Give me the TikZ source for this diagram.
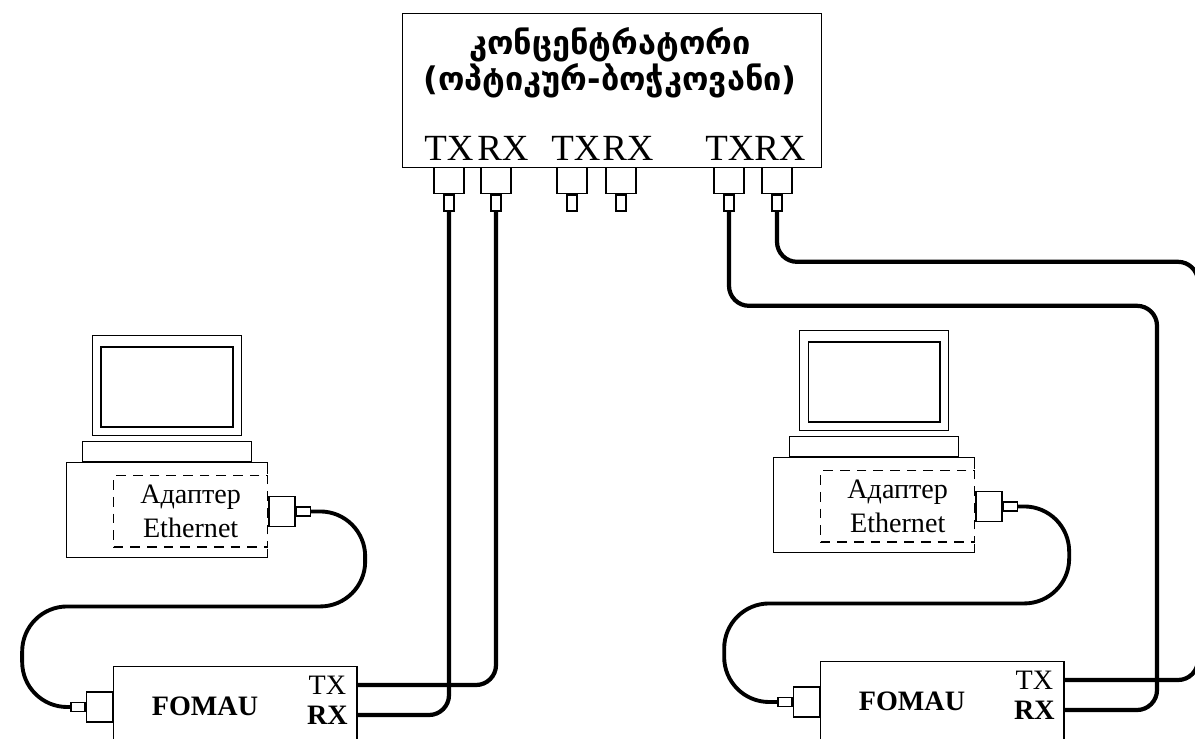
\documentclass[tikz,border=0pt]{standalone}
\usepackage{fontspec}
\setmainfont{Liberation Serif}
\newfontfamily\geofont{DejaVu Sans}
\usetikzlibrary{positioning,calc}

\begin{document}
\begin{tikzpicture}[x=0.02cm,y=-0.02cm,
  box/.style={draw,line width=0.8pt,inner sep=0pt},
  adapter/.style={draw,line width=0.8pt,dash pattern=on 5.5pt off 4pt,inner sep=0pt,
                  preaction={draw=white,solid,line width=1.8pt},
                  align=center,font=\fontsize{16}{19}\selectfont},
  plugv/.style={box,fill=white,minimum width=0.6cm,minimum height=0.52cm},
  pinv/.style={box,fill=white,minimum width=0.2cm,minimum height=0.32cm},
  plugh/.style={box,fill=white,minimum width=0.52cm,minimum height=0.6cm},
  pinh/.style={box,fill=white,minimum width=0.28cm,minimum height=0.18cm},
  port/.style={inner sep=0pt,font=\fontsize{21}{23}\selectfont},
  tag/.style={inner sep=0pt,font=\fontsize{16}{18}\selectfont},
  fibre/.style={line width=2.4pt,rounded corners=0.4cm},
  patch/.style={line width=2.2pt,rounded corners=0.9cm}]

  \useasboundingbox (0,0) rectangle (1195,738);

  % concentrator
  \node[box,anchor=north west,minimum width=8.38cm,minimum height=3.08cm] (hub) at (402,13) {};
  \node[align=center,font=\geofont\bfseries\fontsize{18.5}{17.5}\selectfont] (hubname) at (610,63)
    {კონცენტრატორი\\(ოპტიკურ-ბოჭკოვანი)};
  \foreach \n/\px/\lx/\t in {t1/449/449/TX, r1/496/503/RX, t2/572/576/TX,
                             r2/621/628/RX, t3/729/730/TX, r3/777/780/RX}{
    \node[port] (lbl\n) at (\lx,148) {\t};
    \node[plugv,anchor=north] (plug\n) at (\px,167) {};
    \node[pinv,anchor=north] (pin\n) at (plug\n.south) {};
  }

  % workstations
  \foreach \s/\x/\y in {L/66/462, R/773/457}{
    \node[box,anchor=north west,minimum width=4.02cm,minimum height=1.9cm] (body\s) at (\x,\y) {};
    \node[box,anchor=south,minimum width=3.38cm,minimum height=0.4cm] (kbd\s) at (body\s.north) {};
    \node[box,minimum width=2.98cm,minimum height=2cm,above=0.09cm of kbd\s] (scr\s) {};
    \node[box,minimum width=2.64cm,minimum height=1.6cm] (glass\s) at ([yshift=-1pt]scr\s.center) {};
    \node[adapter,anchor=north east,minimum width=3.08cm,minimum height=1.43cm] (ad\s)
      at ([yshift=-0.26cm]body\s.north east) {Адаптер\\Ethernet};
    \node[plugh,anchor=west] (jack\s) at (ad\s.east) {};
    \node[pinh,anchor=west] (tip\s) at (jack\s.east) {};
  }

  % media converters
  \foreach \s/\x/\y in {L/113/666, R/820/661}{
    \node[box,anchor=north west,minimum width=4.87cm,minimum height=1.56cm] (fom\s) at (\x,\y) {};
    \node[tag,font=\bfseries\fontsize{16}{18}\selectfont] (fomname\s)
      at ([xshift=1.84cm,yshift=-0.8cm]fom\s.north west) {FOMAU};
    \node[tag] (tx\s) at ([xshift=-0.61cm,yshift=-0.38cm]fom\s.north east) {TX};
    \node[tag,font=\bfseries\fontsize{16}{18}\selectfont] (rx\s)
      at ([xshift=-0.61cm,yshift=-0.98cm]fom\s.north east) {RX};
    \node[plugh,anchor=east] (fjack\s) at ([yshift=-0.82cm]fom\s.north west) {};
    \node[pinh,anchor=east] (ftip\s) at (fjack\s.west) {};
  }

  % twisted pair patch cords
  \draw[patch] (tipL.east) -- ++(54,0) -- ++(0,95) -- ++(-343,0) |- (ftipL.west);
  \draw[patch] (tipR.east) -- ++(51,0) -- ++(0,97) -- ++(-345,0) |- (ftipR.west);

  % fibre pairs
  \draw[fibre] (pint1.south) |- (fomL.east |- rxL);
  \draw[fibre] (pinr1.south) |- (fomL.east |- txL);
  \draw[fibre] (pint3.south) |- ++(428,94) |- (fomR.east |- rxR);
  \draw[fibre] (pinr3.south) |- ++(421,50) |- (fomR.east |- txR);
\end{tikzpicture}
\end{document}
